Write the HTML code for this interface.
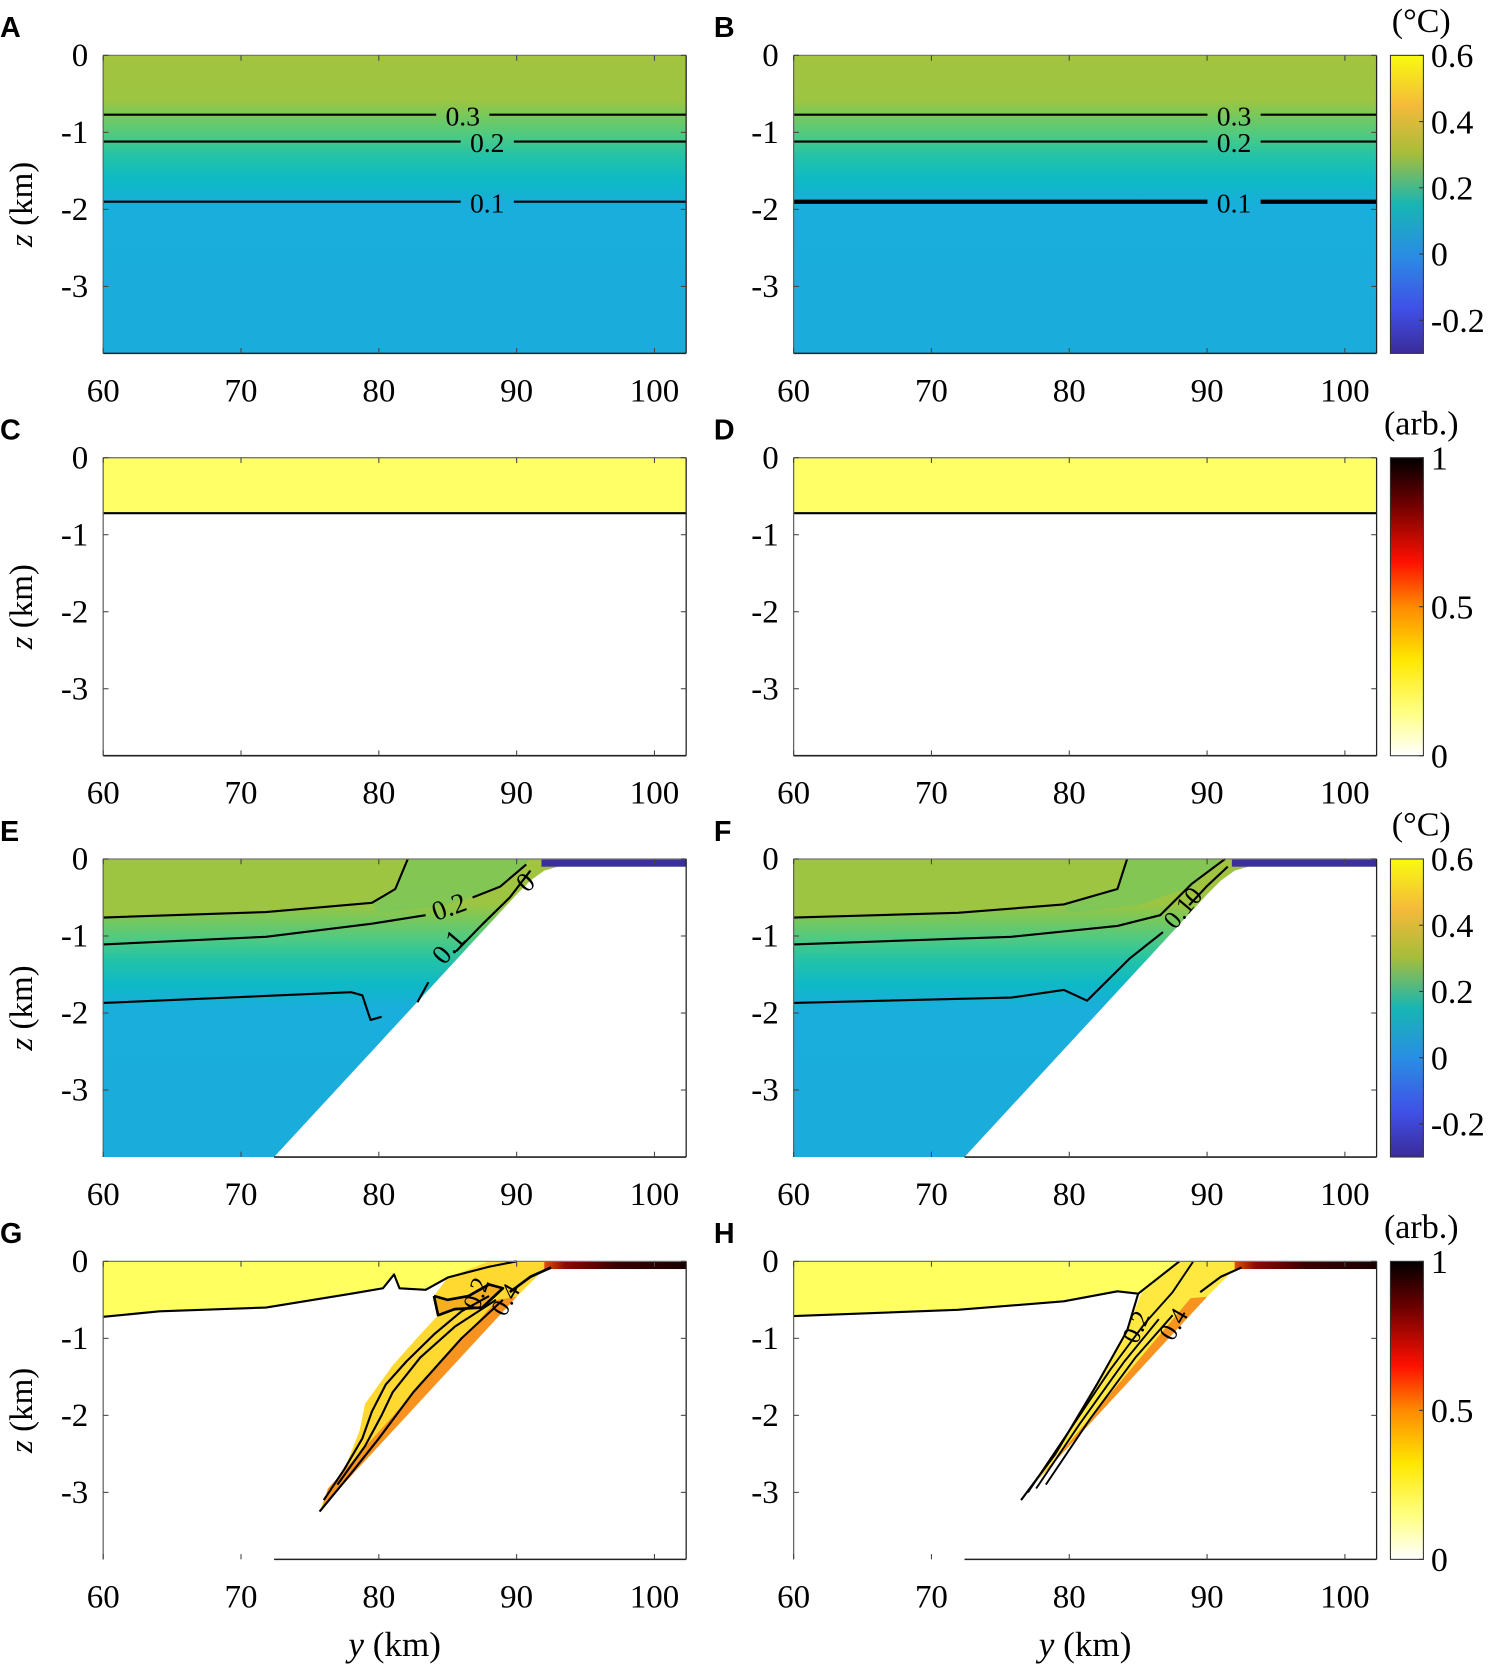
<!DOCTYPE html>
<html><head><meta charset="utf-8"><title>Temperature and tracer sections</title>
<style>
html,body{margin:0;padding:0;background:#fff;}
svg{display:block;}
text{font-family:"Liberation Serif",serif;}
.lt{font-family:"Liberation Sans",sans-serif;font-weight:bold;font-size:27px;}
</style></head>
<body>
<svg id="fig" width="1500" height="1669" viewBox="0 0 1410 1568" preserveAspectRatio="none" xmlns="http://www.w3.org/2000/svg">
<defs>
<linearGradient id="tempV" x1="0" y1="0" x2="0" y2="1">
<stop offset="0" stop-color="#a2c43e"/><stop offset="0.15" stop-color="#9dc542"/>
<stop offset="0.2" stop-color="#79c85a"/><stop offset="0.27" stop-color="#4dca84"/>
<stop offset="0.34" stop-color="#22c3a8"/><stop offset="0.42" stop-color="#0eb9c6"/>
<stop offset="0.5" stop-color="#19aedb"/><stop offset="1" stop-color="#1aacdb"/>
</linearGradient>
<linearGradient id="parula" x1="0" y1="0" x2="0" y2="1">
<stop offset="0" stop-color="#f9fb0e"/><stop offset="0.17" stop-color="#f5b93a"/>
<stop offset="0.33" stop-color="#a6bd3a"/><stop offset="0.5" stop-color="#17b6b4"/>
<stop offset="0.67" stop-color="#2a8de4"/><stop offset="0.85" stop-color="#4050e8"/>
<stop offset="1" stop-color="#3b2b98"/>
</linearGradient>
<linearGradient id="hot" x1="0" y1="0" x2="0" y2="1">
<stop offset="0" stop-color="#000000"/><stop offset="0.15" stop-color="#6a0000"/>
<stop offset="0.35" stop-color="#ff1000"/><stop offset="0.5" stop-color="#ff8a00"/>
<stop offset="0.68" stop-color="#ffe800"/><stop offset="0.85" stop-color="#ffff80"/>
<stop offset="1" stop-color="#ffffff"/>
</linearGradient>
<linearGradient id="darkStrip" x1="0" y1="0" x2="1" y2="0">
<stop offset="0" stop-color="#e05010"/><stop offset="0.15" stop-color="#8a0a00"/>
<stop offset="0.5" stop-color="#3a0000"/><stop offset="1" stop-color="#1a0000"/>
</linearGradient>
</defs>
</svg>
<script>
// ---- data ----
const xTicks = [60, 70, 80, 90, 100];
const zTicks = [0, -1, -2, -3];
const tempBarTicks = [0.6, 0.4, 0.2, 0, -0.2];
const tracerBarTicks = [1, 0.5, 0];
const contourLevelsAB = ['0.3', '0.2', '0.1'];
const contourDepthsAB = [-0.77, -1.12, -1.9];
const topoY = [72.4, 90, 91, 92, 93, 102.3];
const topoZ = [-3.87, -0.46, -0.28, -0.15, -0.1, -0.1];
const tracerDepthCD = -0.72;
const contE03 = [[60,-0.76],[71.8,-0.69],[79.5,-0.57],[81.2,-0.39],[82.1,0]];
const contE02a = [[60,-1.11],[71.8,-1.01],[79.5,-0.84],[83.4,-0.73]];
const contE02b = [[86.8,-0.5],[88.8,-0.36],[90.7,-0.07]];
const contE01a = [[60,-1.87],[78,-1.73],[78.8,-1.77],[79.4,-2.09],[80.2,-2.05]];
const contE01b = [[82.8,-1.86],[83.6,-1.6]];
const contE01c = [[85.6,-1.2],[87.5,-0.85],[89.5,-0.5],[91,-0.15]];
const contF03 = [[60,-0.76],[71.9,-0.7],[79.6,-0.59],[83.5,-0.39],[84.2,0]];
const contF02 = [[60,-1.11],[75.8,-1.01],[83.5,-0.87],[86.6,-0.73],[88.9,-0.32],[91.3,0]];
const contF01 = [[60,-1.87],[75.8,-1.8],[79.6,-1.7],[81.3,-1.84],[84.4,-1.29],[86.8,-0.95]];
const contF01b = [[88.7,-0.6],[90,-0.35],[91.5,-0.1]];
const contG = [[60,-0.72],[64.1,-0.65],[71.8,-0.6],[78,-0.42],[80.3,-0.35],[81.1,-0.17],[81.5,-0.35],[83.4,-0.37],[85,-0.21],[86.5,-0.14],[88,-0.07],[90,0]];
const plumeG = [[75.7,-3.25],[90,-0.46],[91,-0.28],[92,-0.1],[92,0],[88,0],[85,-0.21],[84,-0.45],[84.3,-0.7],[83,-0.95],[81,-1.35],[80,-1.6],[79,-1.85],[78.6,-2.2],[77.5,-2.7],[76,-3.1]];
const plumeGInner1 = [[76,-3.1],[77.5,-2.7],[78.8,-2.3],[79.5,-1.95],[80.5,-1.6],[82,-1.3],[84,-0.95],[86,-0.65],[88,-0.45]];
const plumeGInner2 = [[77,-2.9],[79,-2.4],[80.2,-2.0],[81,-1.7],[83,-1.25],[85.5,-0.85],[88.5,-0.5]];
const plumeGTop = [[84,-0.45],[85,-0.5],[86.5,-0.45],[88,-0.3],[89,-0.35],[87.5,-0.6],[85.5,-0.62],[84.3,-0.7],[84,-0.45]];
const contH = [[60,-0.71],[71.9,-0.63],[79.6,-0.52],[83.5,-0.39],[85,-0.42],[84.2,-0.9],[82,-1.6],[79,-2.5],[76.5,-3.1]];
const plumeH = [[76.5,-3.15],[90,-0.46],[91,-0.28],[92,-0.1],[92,0],[88,0],[85.2,-0.42],[84.2,-0.9],[82,-1.6],[79,-2.5]];
const plumeHInner1 = [[77,-3.0],[80,-2.2],[83,-1.4],[85.5,-0.8],[87.5,-0.4],[89,0]];
const plumeHInner2 = [[77.6,-2.95],[80.8,-2.1],[84,-1.3],[86.5,-0.75]];
const plumeHInner3 = [[78.3,-2.9],[81.5,-2.05],[84.8,-1.25],[87.5,-0.7]];

// ---- layout ----
const XMAX = 102.3, ZMIN = -3.87, PW = 548, PH = 280;
const colX = [97, 746], rowY = [52, 430, 807, 1185];
const NS = 'http://www.w3.org/2000/svg';
const svg = document.getElementById('fig');
function mk(tag, attrs, parent) {
  const e = document.createElementNS(NS, tag);
  for (const k in attrs) e.setAttribute(k, attrs[k]);
  (parent || svg).appendChild(e);
  return e;
}
function P(c, r) { return {x0: colX[c], y0: rowY[r]}; }
function sx(p, y) { return p.x0 + (y - 60) * PW / (XMAX - 60); }
function sz(p, z) { return p.y0 + (-z) * PH / (-ZMIN); }
function pts(p, arr) { return arr.map(d => sx(p, d[0]).toFixed(1) + ',' + sz(p, d[1]).toFixed(1)).join(' '); }
function line(p, arr, w, name) {
  const e = mk('polyline', {points: pts(p, arr), fill: 'none', stroke: '#000', 'stroke-width': w || 2, 'stroke-linejoin': 'round'});
  
  
  return e;
}
function txt(x, y, s, size, anchor, name, rot) {
  const e = mk('text', {x: x, y: y, 'font-size': size, 'text-anchor': anchor || 'middle', fill: '#000'});
  if (rot) e.setAttribute('transform', 'rotate(' + rot + ' ' + x + ' ' + y + ')');
  e.textContent = s;
  
  
  return e;
}
function topoPts(p) {
  const a = topoY.map((y, i) => [y, topoZ[i]]);
  a.push([XMAX, ZMIN]);
  return pts(p, a);
}
function axes(p, slope, name) {
  const g = mk('g', {});
  
  
  mk('line', {x1: p.x0, y1: p.y0, x2: p.x0 + PW, y2: p.y0, stroke: '#777', 'stroke-width': 1.2}, g);
  mk('line', {x1: p.x0, y1: p.y0, x2: p.x0, y2: p.y0 + PH, stroke: '#666', 'stroke-width': 1.2}, g);
  mk('line', {x1: p.x0 + PW, y1: p.y0, x2: p.x0 + PW, y2: p.y0 + PH, stroke: '#222', 'stroke-width': 1.2}, g);
  const bx = slope ? sx(p, topoY[0]) : p.x0;
  mk('line', {x1: bx, y1: p.y0 + PH, x2: p.x0 + PW, y2: p.y0 + PH, stroke: '#222', 'stroke-width': 1.5}, g);
  xTicks.forEach(t => {
    const x = sx(p, t);
    mk('line', {x1: x, y1: p.y0, x2: x, y2: p.y0 + 5, stroke: '#444', 'stroke-width': 1}, g);
    mk('line', {x1: x, y1: p.y0 + PH, x2: x, y2: p.y0 + PH - 5, stroke: '#444', 'stroke-width': 1}, g);
    txt(x, p.y0 + PH + 45, String(t), 31, 'middle', 'x-tick-label');
  });
  zTicks.forEach(t => {
    const y = sz(p, t);
    mk('line', {x1: p.x0, y1: y, x2: p.x0 + 5, y2: y, stroke: '#444', 'stroke-width': 1}, g);
    mk('line', {x1: p.x0 + PW, y1: y, x2: p.x0 + PW - 5, y2: y, stroke: '#444', 'stroke-width': 1}, g);
    txt(p.x0 - 14, y + 10, String(t), 31, 'end', 'y-tick-label');
  });
}
function clip(id, p) {
  const cp = mk('clipPath', {id: id}, svg.querySelector('defs'));
  mk('rect', {x: p.x0, y: p.y0, width: PW, height: PH}, cp);
}

// ---- A, B: temperature, flat ----
[0, 1].forEach(c => {
  const p = P(c, 0), nm = c ? 'panel-b' : 'panel-a';
  const r = mk('rect', {x: p.x0, y: p.y0, width: PW, height: PH, fill: 'url(#tempV)'});
  
  
  contourLevelsAB.forEach((lv, i) => {
    const z = contourDepthsAB[i];
    const gx = c ? 1160 : (i === 0 ? 435 : 458);
    const w = c ? (i === 2 ? 4 : 2) : 2;
    line(p, [[60, z], [60 + (gx - 25 - p.x0) * (XMAX - 60) / PW, z]], w, 'contour-' + lv);
    line(p, [[60 + (gx + 25 - p.x0) * (XMAX - 60) / PW, z], [XMAX, z]], w, 'contour-' + lv);
    txt(gx, sz(p, z) + 10, lv, 26, 'middle', 'contour-label-' + lv);
  });
  axes(p, false, nm);
});

// ---- C, D: tracer, flat ----
[0, 1].forEach(c => {
  const p = P(c, 1), nm = c ? 'panel-d' : 'panel-c';
  const r = mk('rect', {x: p.x0, y: p.y0, width: PW, height: sz(p, tracerDepthCD) - p.y0, fill: '#ffff66'});
  
  
  line(p, [[60, tracerDepthCD], [XMAX, tracerDepthCD]], 2, 'tracer-contour');
  axes(p, false, nm);
});

// ---- E, F: temperature with slope ----
[0, 1].forEach(c => {
  const p = P(c, 2), nm = c ? 'panel-f' : 'panel-e';
  clip('clip' + nm, p);
  const g = mk('g', {'clip-path': 'url(#clip' + nm + ')'});
  
  
  mk('rect', {x: p.x0, y: p.y0, width: PW, height: PH, fill: 'url(#tempV)'}, g);
  const c03 = c ? contF03 : contE03;
  const warm = c03.concat([[60, 0]]);
  mk('polygon', {points: pts(p, warm), fill: '#9dc542'}, g);
  mk('polygon', {points: pts(p, [[c03[c03.length-1][0], 0], [91, 0], [89, -0.35], [85, -0.6], [80, -0.7], c03[2], c03[3]]), fill: '#6fc863', opacity: 0.6}, g);
  mk('polygon', {points: topoPts(p), fill: '#fff'}, g);
  mk('rect', {x: sx(p, 91.8), y: p.y0, width: sx(p, XMAX) - sx(p, 91.8), height: sz(p, -0.1) - p.y0, fill: '#3b2f9e'}, g);
  if (c === 0) {
    line(p, contE03, 2); line(p, contE02a, 2); line(p, contE02b, 2);
    line(p, contE01a, 2); line(p, contE01b, 2); line(p, contE01c, 2);
    txt(425, 860, '0.2', 26, 'middle', 'contour-label-0.2', -20);
    txt(428, 895, '0.1', 26, 'middle', 'contour-label-0.1', -50);
    txt(500, 835, '0', 26, 'middle', 'contour-label-0', -45);
  } else {
    line(p, contF03, 2); line(p, contF02, 2); line(p, contF01, 2); line(p, contF01b, 2);
    txt(1118, 858, '0.10', 24, 'middle', 'contour-label-0.10', -50);
  }
  axes(p, true, nm);
});

// ---- G, H: tracer with slope ----
[0, 1].forEach(c => {
  const p = P(c, 3), nm = c ? 'panel-h' : 'panel-g';
  clip('clip' + nm, p);
  const g = mk('g', {'clip-path': 'url(#clip' + nm + ')'});
  
  
  const cont = c ? contH.slice(0, 5) : contG;
  const top = cont.concat([[92, 0], [60, 0]]);
  mk('polygon', {points: pts(p, top), fill: '#ffff60'}, g);
  const plume = c ? plumeH : plumeG;
  mk('polygon', {points: pts(p, plume), fill: c ? '#ffe840' : '#ffd830'}, g);
  if (c === 0) mk('polygon', {points: pts(p, plumeGTop), fill: '#f5b020'}, g);
  const strip = c ? [[76.6, -3.2], [90, -0.46], [88.8, -0.48], [77.2, -2.95]]
                  : [[75.8, -3.25], [90, -0.46], [88.6, -0.5], [76.3, -2.95]];
  mk('polygon', {points: pts(p, strip), fill: '#f7931e'}, g);
  mk('polygon', {points: topoPts(p), fill: '#fff'}, g);
  mk('rect', {x: p.x0, y: p.y0 + PH - 3, width: sx(p, topoY[0]) - p.x0, height: 3, fill: '#fff'}, g);
  mk('rect', {x: sx(p, 92), y: p.y0, width: sx(p, XMAX) - sx(p, 92), height: sz(p, -0.1) - p.y0, fill: 'url(#darkStrip)'}, g);
  if (c === 0) {
    line(p, contG, 2); line(p, plumeGInner1, 2); line(p, plumeGInner2, 2);
    line(p, plumeGTop, 2.5);
    line(p, [[75.7, -3.25], [78, -2.75], [80, -2.3], [82.5, -1.7], [86, -1.0], [89, -0.5]], 2);
    line(p, [[89.5, -0.4], [91, -0.2], [92.5, -0.08]], 2.5);
    txt(455, 1218, '0.2', 24, 'middle', 'contour-label-0.2', -70);
    txt(482, 1225, '0.4', 24, 'middle', 'contour-label-0.4', -60);
  } else {
    line(p, contH, 2); line(p, [[85, -0.42], [88, 0]], 2);
    line(p, plumeHInner1, 1.8); line(p, plumeHInner2, 1.8); line(p, plumeHInner3, 1.8);
    line(p, [[89.5, -0.4], [91, -0.2], [92.5, -0.08]], 2);
    txt(1075, 1250, '0.2', 24, 'middle', 'contour-label-0.2', -65);
    txt(1110, 1248, '0.4', 24, 'middle', 'contour-label-0.4', -60);
  }
  axes(p, true, nm);
});

// ---- colorbars ----
function colorbar(r, fill, ticks, vmin, vmax, unit, name) {
  const y0 = rowY[r], x = 1307, w = 31;
  const g = mk('g', {});
  
  
  mk('rect', {x: x, y: y0, width: w, height: PH, fill: fill, stroke: '#333', 'stroke-width': 1}, g);
  ticks.forEach(t => {
    const y = y0 + (vmax - t) / (vmax - vmin) * PH;
    mk('line', {x1: x + w - 4, y1: y, x2: x + w, y2: y, stroke: '#333'}, g);
    txt(1345, y + 11, String(t), 32, 'start', 'colorbar-tick-label');
  });
  txt(1336, y0 - 22, unit, 32, 'middle', 'colorbar-unit');
}
colorbar(0, 'url(#parula)', tempBarTicks, -0.3, 0.6, '(°C)', 'temperature-colorbar-top');
colorbar(2, 'url(#parula)', tempBarTicks, -0.3, 0.6, '(°C)', 'temperature-colorbar-bottom');
colorbar(1, 'url(#hot)', tracerBarTicks, 0, 1, '(arb.)', 'tracer-colorbar-top');
colorbar(3, 'url(#hot)', tracerBarTicks, 0, 1, '(arb.)', 'tracer-colorbar-bottom');

// ---- panel letters and axis titles ----
const letters = ['A','B','C','D','E','F','G','H'];
letters.forEach((L, i) => {
  const c = i % 2, r = Math.floor(i / 2);
  const e = mk('text', {x: c ? 671 : 0, y: rowY[r] - 17, class: 'lt'});
  e.textContent = L;
  
  
});
rowY.forEach(y0 => {
  const cy = y0 + PH / 2;
  const e = mk('text', {x: 30, y: cy, 'font-size': 31, 'text-anchor': 'middle', transform: 'rotate(-90 30 ' + cy + ')'});
  e.innerHTML = '<tspan font-style="italic">z</tspan> (km)';
  
  
});
colX.forEach(x0 => {
  const e = mk('text', {x: x0 + PW / 2, y: 1556, 'font-size': 33, 'text-anchor': 'middle'});
  e.innerHTML = '<tspan font-style="italic">y</tspan> (km)';
  
  
});
</script>
</body></html>
